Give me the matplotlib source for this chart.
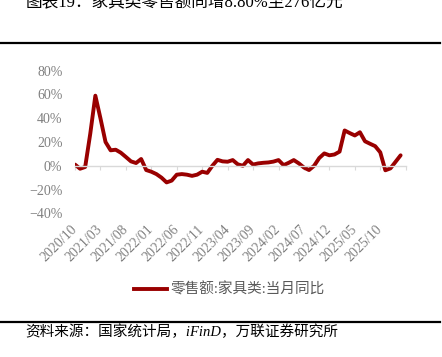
import matplotlib
matplotlib.use("Agg")
import matplotlib.pyplot as plt
import pandas as pd
from matplotlib.lines import Line2D
from matplotlib.ticker import FixedLocator, PercentFormatter

plt.rcParams["font.family"] = ["Liberation Serif", "Noto Sans CJK SC"]

TITLE = "图表19：家具类零售额同增8.80%至276亿元"
SOURCE = "资料来源：国家统计局，iFinD，万联证券研究所"
SERIES_NAME = "零售额:家具类:当月同比"

# monthly categories, 2020/10 .. 2026/02
months = list(pd.period_range("2020-10", periods=65, freq="M").strftime("%Y/%m"))

# 零售额:家具类:当月同比 (%)
yoy = [
    1.0, -2.5, -1.0,
    27.0, 59.0, 40.0, 20.0, 13.0, 13.5, 11.0, 7.4, 3.7, 2.3, 5.7, -3.6,
    -5.0, -7.0, -10.0, -14.0, -12.5, -7.5, -7.0, -7.5, -8.5, -7.5, -5.0, -6.0,
    0.0, 5.0, 3.7, 3.4, 4.8, 1.2, 0.0, 4.8, 1.0, 2.0, 2.5, 2.8,
    3.5, 4.8, 0.5, 2.5, 4.8, 2.0, -1.5, -3.6, 0.0, 6.5, 10.4, 8.8,
    9.5, 11.9, 29.7, 27.5, 25.5, 28.2, 20.6, 18.5, 16.5, 11.3, -3.8, -2.2,
    3.3, 8.8,
]

LINE_COLOR = "#990000"
GRAY = "#808080"

W, H = 442, 357
fig = plt.figure(figsize=(W / 100, H / 100), dpi=100)

ax = fig.add_axes([75 / W, 1 - 213.3 / H, 330.7 / W, 142.6 / H])
x = list(range(len(yoy)))
ax.plot(x, yoy, color=LINE_COLOR, lw=2.8, solid_joinstyle="round",
        solid_capstyle="round", label=SERIES_NAME)

ax.set_xlim(0, 65)
ax.set_ylim(-40, 80)
ax.set_yticks(range(-40, 81, 20))
ax.yaxis.set_major_formatter(PercentFormatter(decimals=0))
ax.tick_params(axis="y", length=0, pad=9, labelcolor=GRAY, labelsize=10)

for side in ("left", "right", "top"):
    ax.spines[side].set_visible(False)
ax.spines["bottom"].set_position(("data", 0))
ax.spines["bottom"].set_color("#d9d9d9")
ax.spines["bottom"].set_linewidth(1.0)
ax.set_zorder(1)

tick_pos = list(range(0, 66, 5))
ax.xaxis.set_major_locator(FixedLocator(tick_pos))
ax.tick_params(axis="x", direction="out", length=3, color="#d9d9d9",
               labelbottom=False)

# category labels sit below the plot area
sec = ax.secondary_xaxis("bottom")
sec.spines["bottom"].set_visible(False)
lab_pos = tick_pos[:-1]
sec.set_xticks(lab_pos, [months[i] for i in lab_pos])
sec.tick_params(axis="x", length=0, pad=10, labelcolor=GRAY, labelsize=10)
for t in sec.get_xticklabels():
    t.set_rotation(45)
    t.set_ha("right")
    t.set_rotation_mode("anchor")
    t.set_va("center")

# legend
handle = Line2D([], [], color=LINE_COLOR, lw=2.8)
fig.legend([handle], [SERIES_NAME], loc="center", bbox_to_anchor=(0.518, 1 - 289.5 / H),
           frameon=False, handlelength=2.3, handletextpad=0.2,
           prop={"size": 10.5}, labelcolor="#595959")

# title, rules and source
fig.text(26 / W, 1 - 2.5 / H, TITLE, fontsize=12, va="center", ha="left", color="#000000")
fig.add_artist(Line2D([0, 440 / W], [1 - 42.7 / H] * 2, color="black", lw=1.6,
                      transform=fig.transFigure))
fig.add_artist(Line2D([0, 440 / W], [1 - 321.7 / H] * 2, color="black", lw=1.6,
                      transform=fig.transFigure))
fig.text(25 / W, 1 - 331.7 / H, SOURCE, fontsize=10.5, style="italic",
         va="center", ha="left", color="black")

fig.savefig("out.png", dpi=100)
